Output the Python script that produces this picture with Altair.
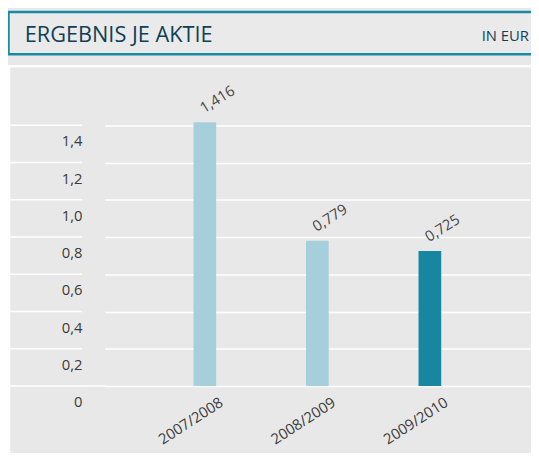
import altair as alt
import pandas as pd

years = ["2007/2008", "2008/2009", "2009/2010"]
values = [1.416, 0.779, 0.725]
value_labels = ["1,416", "0,779", "0,725"]
bar_colors = ["#a6cfdc", "#a6cfdc", "#1787a1"]
tick_values = [0, 0.2, 0.4, 0.6, 0.8, 1.0, 1.2, 1.4]
title_text = "ERGEBNIS JE AKTIE"
unit_text = "IN EUR"

FONT = "Open Sans"
BG = "#e8e8e8"

bars_df = pd.DataFrame({"year": years, "value": values, "label": value_labels, "color": bar_colors})
ticks_df = pd.DataFrame({"v": tick_values})
one = pd.DataFrame({"k": [0]})

x_enc = alt.X("year:N", sort=years,
              scale=alt.Scale(paddingInner=0, paddingOuter=0.39),
              axis=alt.Axis(title=None, labelAngle=327, labelFont=FONT, labelFontSize=15,
                            labelColor="#3a3a3a", ticks=False, domain=False, grid=False,
                            labelPadding=9, labelOffset=13))
y_scale = alt.Scale(domain=[0, 1.6], nice=False, zero=True)

bars = alt.Chart(bars_df).mark_bar(size=23).encode(
    x=x_enc,
    y=alt.Y("value:Q", scale=y_scale,
            axis=alt.Axis(title=None, values=tick_values, grid=True, gridColor="white",
                          gridWidth=1.5, ticks=False, domain=False, labelFont=FONT,
                          labelFontSize=15, labelColor="#3a3a3a", labelPadding=23,
                          labelOffset=16, labelAlign="right",
                          labelExpr="datum.value == 0 ? '0' : replace(format(datum.value, '.1f'), '.', ',')")),
    color=alt.Color("color:N", scale=None),
)

bar_text = alt.Chart(bars_df).mark_text(
    angle=328, align="center", baseline="middle", dx=23, dy=-13,
    font=FONT, fontSize=15, color="#444444"
).encode(x=alt.X("year:N", sort=years), y=alt.Y("value:Q"), text="label:N")

left_grid = alt.Chart(ticks_df).mark_rule(color="white", strokeWidth=1.5).encode(
    y=alt.Y("v:Q"), x=alt.value(-96), x2=alt.value(-23)
)
zero_gap = alt.Chart(one).mark_rule(color="white", strokeWidth=1.5).encode(
    y=alt.datum(0), x=alt.value(-24), x2=alt.value(1)
)

header = alt.Chart(one).mark_rect(fill="#eaeaea", stroke="#1a8aa3", strokeWidth=2.5).encode(
    x=alt.value(-97.5), x2=alt.value(460), y=alt.value(-77), y2=alt.value(-34)
)
panel = alt.Chart(one).mark_rect(fill="transparent", stroke="white", strokeWidth=2.5).encode(
    x=alt.value(-97), x2=alt.value(460), y=alt.value(-22), y2=alt.value(420)
)
title = alt.Chart(one).mark_text(
    text=title_text, align="left", baseline="alphabetic", font=FONT, fontSize=22, color="#0e4058"
).encode(x=alt.value(-81), y=alt.value(-47))
unit = alt.Chart(one).mark_text(
    text=unit_text, align="left", baseline="alphabetic", font=FONT, fontSize=15, color="#0e4058"
).encode(x=alt.value(382), y=alt.value(-48))

chart = alt.layer(header, panel, title, unit, left_grid, zero_gap, bars, bar_text).properties(
    width=431, height=302,
    autosize=alt.AutoSizeParams(type="none"),
    padding={"left": 98, "top": 78, "right": 1, "bottom": 65},
    background=BG,
).configure_view(stroke=None)

chart.save("out.html", embed_options={"renderer": "svg", "actions": False})
